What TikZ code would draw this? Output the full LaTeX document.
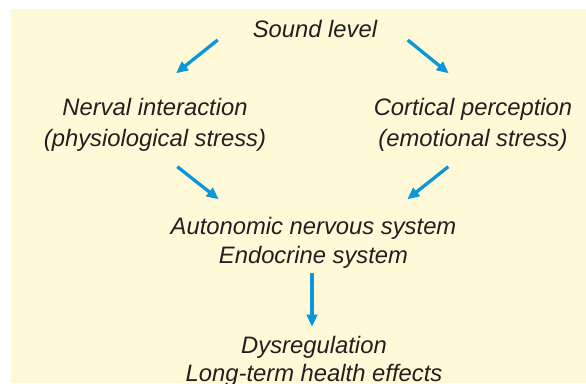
\documentclass[tikz,border=0pt]{standalone}
\usepackage{fontspec}
\setmainfont{Liberation Sans}
\usetikzlibrary{arrows.meta}
\definecolor{bgyellow}{RGB}{255,249,215}
\definecolor{arrblue}{RGB}{10,152,218}
\definecolor{txtgray}{RGB}{35,31,32}
\tikzset{
  lbl/.style={align=center, inner sep=0pt, text=txtgray,
    font=\fontsize{23.8}{30}\selectfont\itshape},
  arr/.style={draw=arrblue, line width=3.3pt,
    -{Triangle[length=12pt,width=10.5pt]}}
}
\begin{document}
\begin{tikzpicture}[x=1pt,y=-1pt]
\useasboundingbox (0,0) rectangle (586,383);
\fill[bgyellow] (11,9) rectangle (586,383);
\node[lbl] (sound) at (315,29) {Sound level};
\node[lbl] (nerv) at (155,124.5) {Nerval interaction\\[1pt](physiological stress)};
\node[lbl] (cort) at (473,124.5) {Cortical perception\\[1pt](emotional stress)};
\node[lbl] (auto) at (313.5,243) {Autonomic nervous system\\[-1pt]Endocrine system};
\node[lbl] (dys) at (314,361) {Dysregulation\\[-2pt]Long-term health effects};
\coordinate (s1) at (217.7,40);   \coordinate (n1) at (176,73.3);
\coordinate (s2) at (407.7,40);   \coordinate (c1) at (448.7,73.3);
\coordinate (n2) at (177.3,166.7); \coordinate (a1) at (218.7,199.3);
\coordinate (c2) at (448.3,166.7); \coordinate (a2) at (407.3,199.3);
\coordinate (a3) at (312,273.3);   \coordinate (d1) at (312,326.7);
\draw[arr] (s1) -- (n1);
\draw[arr] (s2) -- (c1);
\draw[arr] (n2) -- (a1);
\draw[arr] (c2) -- (a2);
\draw[arr] (a3) -- (d1);
\end{tikzpicture}
\end{document}
